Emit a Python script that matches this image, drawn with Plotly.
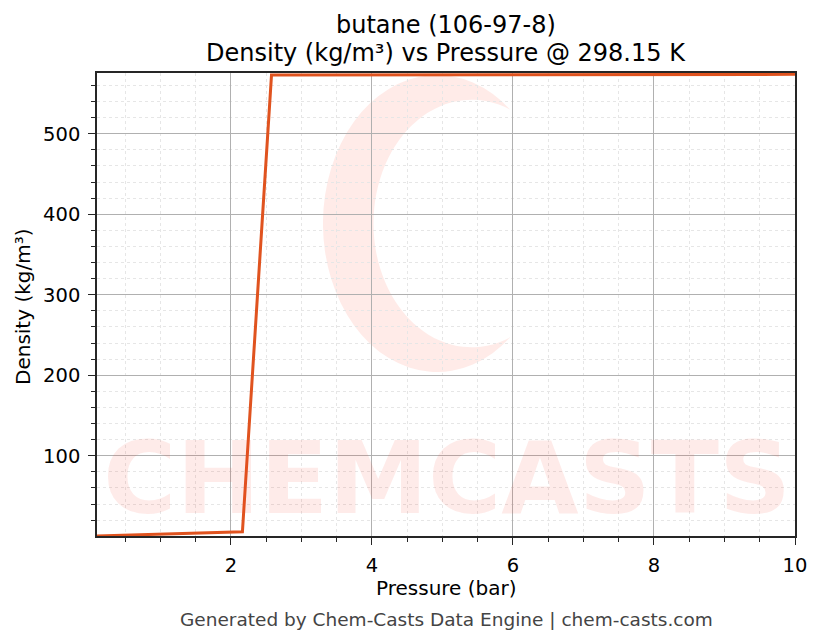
import base64
import plotly.graph_objects as go

pressure_bar = [0.1, 0.5125, 0.925, 1.3375, 1.75, 2.1625, 2.575, 2.9875, 3.4, 3.8125,
                4.225, 4.6375, 5.05, 5.4625, 5.875, 6.2875, 6.7, 7.1125, 7.525, 7.9375,
                8.35, 8.7625, 9.175, 9.5875, 10.0]
density_kgm3 = [0.24, 1.22, 2.24, 3.28, 4.36, 5.5, 572.9, 573.0, 573.05, 573.1,
                573.15, 573.2, 573.25, 573.3, 573.35, 573.4, 573.45, 573.5, 573.55, 573.6,
                573.65, 573.7, 573.75, 573.8, 573.85]
x_ticks = [2, 4, 6, 8, 10]
y_ticks = [100, 200, 300, 400, 500]

title_line1 = "butane (106-97-8)"
title_line2 = "Density (kg/m³) vs Pressure @ 298.15 K"
x_label = "Pressure (bar)"
y_label = "Density (kg/m³)"
footer = "Generated by Chem-Casts Data Engine | chem-casts.com"
watermark = "CHEMCASTS"

FONT = "DejaVu Sans"
# page has an 8px body margin; figure sized so that plot area lands at 97..795 x 73..536
W, H = 815, 630
ML, MR, MT, MB = 89, 28, 65, 102
PW, PH = W - ML - MR, H - MT - MB


def px(fx):  # figure x pixel -> paper
    return (fx - ML) / PW


def py(fy):  # figure y pixel -> paper
    return (H - MB - fy) / PH


fig = go.Figure()
fig.add_trace(go.Scatter(x=pressure_bar, y=density_kgm3, mode="lines",
                         line=dict(color="#E0531F", width=3), showlegend=False))

# C-logo watermark as an svg image
svg = ('<svg xmlns="http://www.w3.org/2000/svg" width="230" height="300" viewBox="0 0 230 300">'
       '<path d="M 188.9 35.1 A 115 150 0 1 0 188.9 264.9 A 99 125 0 1 1 188.9 35.1 Z" '
       'fill="#ff3b1f" fill-opacity="0.10"/></svg>')
fig.add_layout_image(dict(
    source="data:image/svg+xml;base64," + base64.b64encode(svg.encode()).decode(),
    xref="paper", yref="paper", x=px(323 - 8), y=py(75 - 8),
    sizex=228 / PW, sizey=297 / PH, xanchor="left", yanchor="top",
    sizing="stretch", layer="below"))

fig.add_annotation(text="<b>" + watermark + "</b>", xref="paper", yref="paper",
                   x=px(447 - 8), y=py(478 - 8), xanchor="center", yanchor="middle",
                   showarrow=False,
                   font=dict(family="DejaVu Sans", size=100,
                             color="rgba(245,60,40,0.10)"))

fig.update_layout(
    width=W, height=H,
    margin=dict(l=ML, r=MR, t=MT, b=MB),
    paper_bgcolor="white", plot_bgcolor="white",
    font=dict(family=FONT, size=20, color="black"),
)
axis_common = dict(
    showline=True, linecolor="#262626", linewidth=1.6, mirror=True,
    ticks="outside", ticklen=7, tickwidth=1.4, tickcolor="#262626",
    showgrid=True, gridcolor="#b0b0b0", gridwidth=0.9, zeroline=False,
    tickfont=dict(family=FONT, size=19.5, color="black"), ticklabelstandoff=4,
)
minor_common = dict(ticks="outside", ticklen=4, tickwidth=1, tickcolor="#262626",
                    showgrid=True, gridcolor="#e6e6e6", griddash="3px,3px", gridwidth=0.6)
fig.update_xaxes(**axis_common, range=[0.1, 10], tickvals=x_ticks,
                 minor=dict(dtick=0.5, tick0=0, **minor_common))
fig.update_yaxes(**axis_common, range=[0.24, 575.5], tickvals=y_ticks,
                 minor=dict(dtick=20, tick0=0, **minor_common))

cx = px(446 - 8)
fig.add_annotation(text=title_line1, xref="paper", yref="paper", x=cx, y=py(25 - 8),
                   xanchor="center", yanchor="middle", showarrow=False,
                   font=dict(family=FONT, size=24, color="black"))
fig.add_annotation(text=title_line2, xref="paper", yref="paper", x=cx, y=py(53 - 8),
                   xanchor="center", yanchor="middle", showarrow=False,
                   font=dict(family=FONT, size=24, color="black"))
fig.add_annotation(text=x_label, xref="paper", yref="paper", x=cx, y=py(588 - 8),
                   xanchor="center", yanchor="middle", showarrow=False,
                   font=dict(family=FONT, size=20, color="black"))
fig.add_annotation(text=y_label, xref="paper", yref="paper", x=px(23 - 8), y=py(307 - 8),
                   xanchor="center", yanchor="middle", textangle=-90, showarrow=False,
                   font=dict(family=FONT, size=20, color="black"))
fig.add_annotation(text=footer, xref="paper", yref="paper", x=cx, y=py(619 - 8),
                   xanchor="center", yanchor="middle", showarrow=False,
                   font=dict(family=FONT, size=18.5, color="#444444"))

fig.write_html("out.html")
